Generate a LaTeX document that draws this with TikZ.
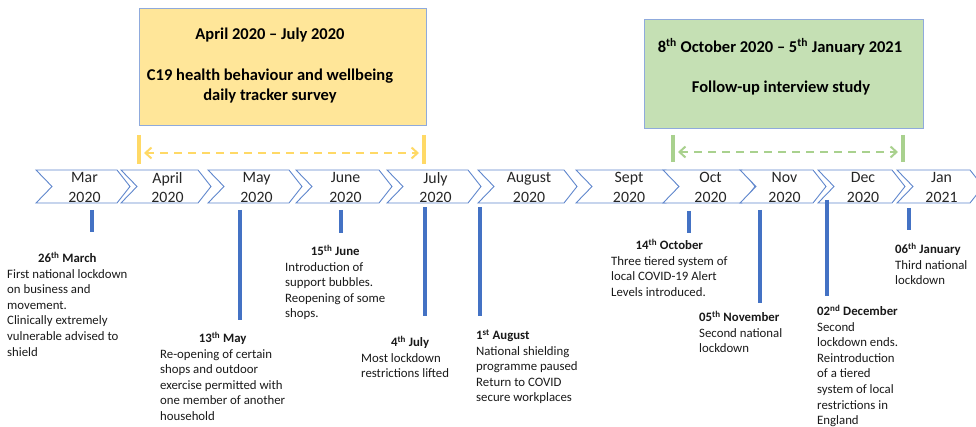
\documentclass[tikz,border=0pt]{standalone}
\usepackage{fontspec}
\setmainfont{Carlito}
\usetikzlibrary{arrows.meta,positioning}
\definecolor{chevblue}{RGB}{68,114,196}
\definecolor{surveyfill}{RGB}{255,230,153}
\definecolor{surveybar}{RGB}{255,217,102}
\definecolor{studyfill}{RGB}{197,224,180}
\definecolor{studybar}{RGB}{169,209,142}
\definecolor{boxedge}{RGB}{143,170,220}
% event text: centred or flush-left date over the lines
\newcommand{\evc}[2]{\begin{tabular}[t]{@{}l@{}}\multicolumn{1}{@{}c@{}}{\textbf{#1}}\\#2\end{tabular}}
\newcommand{\evl}[2]{\begin{tabular}[t]{@{}l@{}}\textbf{#1}\\#2\end{tabular}}

\begin{document}
\begin{tikzpicture}[x=1pt,y=-1pt,
  chev/.style={draw=chevblue!85,line width=0.9pt,fill=white},
  month/.style={align=center,inner sep=0pt,text=black!85,font=\fontsize{15.8}{19.3}\selectfont},
  tick/.style={draw=chevblue,line width=3.2pt},
  note/.style={anchor=base west,inner sep=0pt,text=black!90,font=\fontsize{12.8}{15.6}\selectfont},
  panel/.style={draw=boxedge,line width=0.9pt,inner sep=0pt},
  title/.style={anchor=base,inner sep=0pt,font=\fontsize{16.5}{20}\selectfont\bfseries},
  bar/.style={line width=4.5pt},
  span/.style={line width=2pt,dash pattern=on 8pt off 6pt,
    arrows={Straight Barb[length=6pt,width=11pt]-Straight Barb[length=6pt,width=11pt]}}]
\useasboundingbox (0,0) rectangle (976,427);

% study periods
\node[panel,fill=surveyfill,minimum width=287pt,minimum height=117pt] (survey) at (282.5,66.5) {};
\node[title] (surveyT) at (270,39.5) {April 2020 – July 2020};
\node[title] (surveyA) at (270,80.5) {C19 health behaviour and wellbeing};
\node[title] (surveyB) at (270,100.5) {daily tracker survey};

\node[panel,fill=studyfill,minimum width=279pt,minimum height=109pt] (study) at (783.5,73.5) {};
\node[title] (studyT) at (780,52.5) {8\textsuperscript{th} October 2020 – 5\textsuperscript{th} January 2021};
\node[title] (studyA) at (781,92.5) {Follow-up interview study};

\draw[bar,surveybar] (139,135) -- (139,164) (424,135) -- (424,164);
\coordinate (s1) at (144,153);
\coordinate (s2) at (419,153);
\draw[span,surveybar] (s1) -- (s2);

\draw[bar,studybar] (673,135) -- (673,162) (903,135) -- (903,162);
\coordinate (f1) at (678,152);
\coordinate (f2) at (898,152);
\draw[span,studybar] (f1) -- (f2);

% month chevrons
\foreach \l/\r/\m/\yr [count=\i] in {36/130/Mar/2020,121/211/April/2020,208/302/May/2020,
    296/392/June/2020,387/481/July/2020,478/577/August/2020,576/679/Sept/2020,
    663/755/Oct/2020,740/826/Nov/2020,818/905/Dec/2020,897/983/Jan/2021} {
  \draw[chev] (\l,170) -- ({\r-13},170) -- (\r,186.5) -- ({\r-13},203) -- (\l,203) -- ({\l+16},186.5) -- cycle;
  \node[month] (m\i) at ({(\l+\r)/2+1.5},187.5) {\m\\\yr};
}

% event markers
\foreach \x/\a/\b in {92/210/232,240/210/320,341/210/233,425/207/316,480/207/316,
    689/211/233,760/210/303,827/200/296,909/208/230}
  \draw[tick] (\x,\a) -- (\x,\b);

% events
\node[note] (mar26) at (7,262.5) {\evc{26\textsuperscript{th} March}{First national lockdown\\on business and\\movement.\\Clinically extremely\\vulnerable advised to\\shield}};
\node[note] (may13) at (160,342.5) {\evc{13\textsuperscript{th} May}{Re-opening of certain\\shops and outdoor\\exercise permitted with\\one member of another\\household}};
\node[note] (jun15) at (285,255.5) {\evc{15\textsuperscript{th} June}{Introduction of\\support bubbles.\\Reopening of some\\shops.}};
\node[note] (jul4) at (361,346.5) {\evc{\hspace{10pt}4\textsuperscript{th} July}{Most lockdown\\restrictions lifted}};
\node[note] (aug1) at (476,339.5) {\evl{1\textsuperscript{st} August}{National shielding\\programme paused\\Return to COVID\\secure workplaces}};
\node[note] (oct14) at (611,249.5) {\evc{14\textsuperscript{th} October}{Three tiered system of\\local COVID-19 Alert\\Levels introduced.}};
\node[note] (nov5) at (699,321.5) {\evl{05\textsuperscript{th} November}{Second national\\lockdown}};
\node[note] (dec2) at (817,315.5) {\evl{02\textsuperscript{nd} December}{Second\\lockdown ends.\\Reintroduction\\of a tiered\\system of local\\restrictions in\\England}};
\node[note] (jan6) at (895,253.5) {\evl{06\textsuperscript{th} January}{Third national\\lockdown}};
\end{tikzpicture}
\end{document}
